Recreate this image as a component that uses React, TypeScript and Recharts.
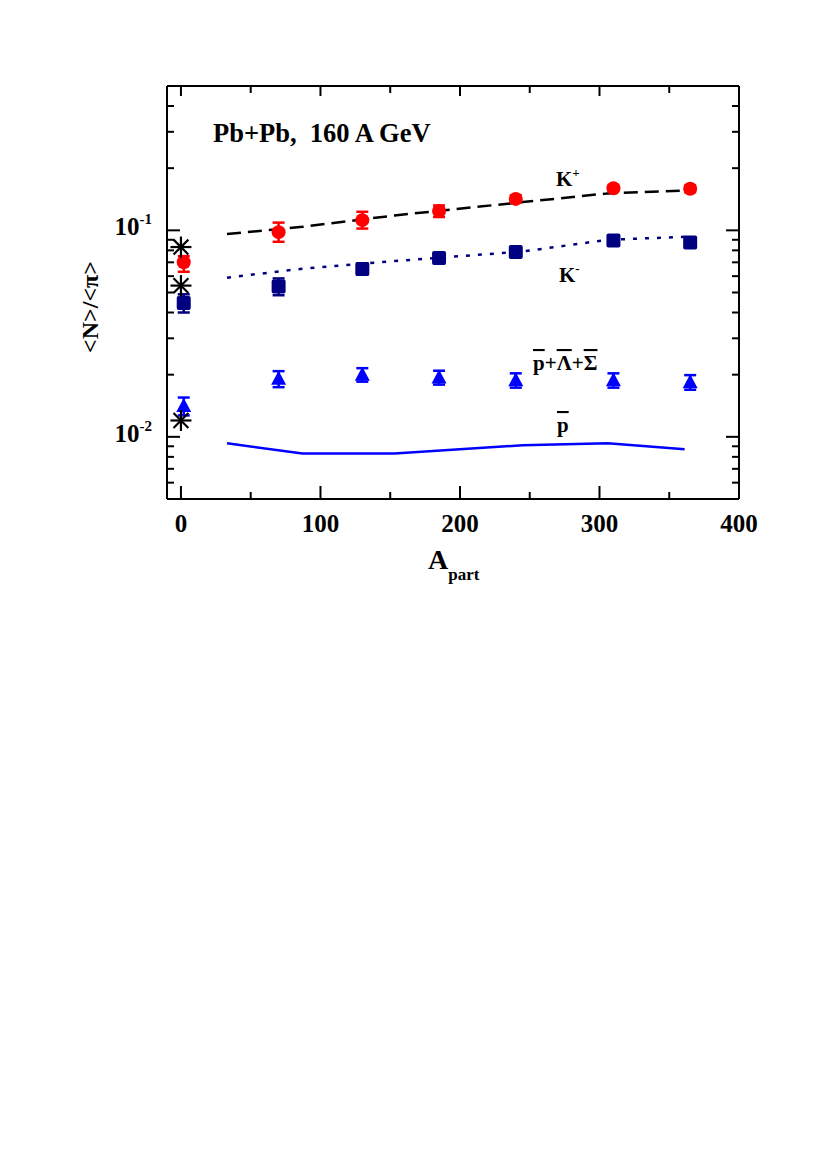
import React from "react";
import { ComposedChart, Scatter, Line, XAxis, YAxis, ErrorBar } from "recharts";

// measured points (A_part, <N>/<pi>)
const aPart = [2, 70, 130, 185, 240, 310, 365];
const kPlus = [0.07, 0.098, 0.112, 0.124, 0.142, 0.16, 0.159];
const kPlusErr = [
  [0.007, 0.005],
  [0.01, 0.011],
  [0.01, 0.011],
  [0.008, 0.008],
  [0.006, 0.006],
  [0.005, 0.005],
  [0.006, 0.006],
];
const kMinus = [0.0445, 0.0535, 0.065, 0.0734, 0.0785, 0.0894, 0.0872];
const kMinusErr = [0.0045, 0.005, 0.004, 0.003, 0.003, 0.003, 0.003];
const hyperons = [0.0141, 0.0191, 0.02, 0.0194, 0.0188, 0.0188, 0.0184];
const hyperonsErr = [0.0014, 0.0017, 0.0015, 0.0015, 0.0015, 0.0015, 0.0015];

// p+p reference points at A_part = 0
const ppX = [0, 0, 0];
const ppY = [0.083, 0.054, 0.012];

// model curves
const modelApart = [33, 87, 153, 245, 306, 361];
const kPlusModel = [0.096, 0.104, 0.118, 0.137, 0.151, 0.156];
const kMinusModel = [0.059, 0.0652, 0.071, 0.079, 0.09, 0.093];
const pbarModel = [0.0093, 0.0083, 0.0083, 0.0091, 0.0093, 0.0087];

const xTicks = [0, 50, 100, 150, 200, 250, 300, 350, 400];
const yTicks = [
  0.005, 0.006, 0.007, 0.008, 0.009, 0.01, 0.02, 0.03, 0.04, 0.05, 0.06, 0.07,
  0.08, 0.09, 0.1, 0.2, 0.3, 0.4, 0.5,
];

const kPlusData = aPart.map((x, i) => ({ x, y: kPlus[i], err: kPlusErr[i] }));
const kMinusData = aPart.map((x, i) => ({ x, y: kMinus[i], err: kMinusErr[i] }));
const hyperonsData = aPart.map((x, i) => ({ x, y: hyperons[i], err: hyperonsErr[i] }));
const ppData = ppX.map((x, i) => ({ x, y: ppY[i] }));
const kPlusModelData = modelApart.map((x, i) => ({ x, y: kPlusModel[i] }));
const kMinusModelData = modelApart.map((x, i) => ({ x, y: kMinusModel[i] }));
const pbarModelData = modelApart.map((x, i) => ({ x, y: pbarModel[i] }));

const FONT = "'Liberation Serif', 'Times New Roman', serif";

const isDecade = (v: number) => Math.abs(Math.log10(v) - Math.round(Math.log10(v))) < 1e-6;

function LeftTick(props: any) {
  const { x, y, payload } = props;
  const v = payload.value;
  const major = isDecade(v);
  return (
    <g>
      <line x1={x} x2={x + (major ? 13 : 7)} y1={y} y2={y} stroke="#000" strokeWidth={2} />
      {major && (
        <text x={x - 15} y={y + 5} textAnchor="end" fontFamily={FONT} fontWeight="bold" fontSize={25} fill="#000">
          <tspan>10</tspan>
          <tspan dy={-11} fontSize={15}>{String(Math.round(Math.log10(v)))}</tspan>
        </text>
      )}
    </g>
  );
}

function RightTick(props: any) {
  const { x, y, payload } = props;
  const major = isDecade(payload.value);
  return <line x1={x} x2={x - (major ? 13 : 7)} y1={y} y2={y} stroke="#000" strokeWidth={2} />;
}

function BottomTick(props: any) {
  const { x, y, payload } = props;
  const major = payload.value % 100 === 0;
  return (
    <g>
      <line x1={x} x2={x} y1={y} y2={y - (major ? 13 : 7)} stroke="#000" strokeWidth={2} />
      {major && (
        <text x={x} y={y + 33} textAnchor="middle" fontFamily={FONT} fontWeight="bold" fontSize={25} fill="#000">
          {payload.value}
        </text>
      )}
    </g>
  );
}

function TopTick(props: any) {
  const { x, y, payload } = props;
  const major = payload.value % 100 === 0;
  return <line x1={x} x2={x} y1={y} y2={y + (major ? 10 : 7)} stroke="#000" strokeWidth={2} />;
}

const circleShape = (p: any) => <circle cx={p.cx} cy={p.cy} r={7} fill="#ff0000" />;
const squareShape = (p: any) => (
  <rect x={p.cx - 7} y={p.cy - 7} width={14} height={14} rx={2} fill="#000080" />
);
const triangleShape = (p: any) => (
  <polygon
    points={`${p.cx},${p.cy - 8} ${p.cx - 7.5},${p.cy + 6} ${p.cx + 7.5},${p.cy + 6}`}
    fill="#0000ff"
  />
);
const asteriskShape = (p: any) => {
  const r = 10.5;
  const d = r * 0.7071;
  return (
    <g stroke="#000" strokeWidth={2.2}>
      <line x1={p.cx - r} x2={p.cx + r} y1={p.cy} y2={p.cy} />
      <line x1={p.cx} x2={p.cx} y1={p.cy - r} y2={p.cy + r} />
      <line x1={p.cx - d} x2={p.cx + d} y1={p.cy - d} y2={p.cy + d} />
      <line x1={p.cx - d} x2={p.cx + d} y1={p.cy + d} y2={p.cy - d} />
    </g>
  );
};

const W = 817;
const H = 620;

export default function App() {
  const axisLine = { stroke: "#000", strokeWidth: 2 };
  const over = { textDecoration: "overline" } as React.CSSProperties;
  return (
    <div style={{ position: "absolute", left: 0, top: 0, width: W, height: H }}>
      <ComposedChart width={W} height={H} margin={{ top: 85, right: 77, bottom: 120, left: 166 }}>
        <XAxis
          xAxisId="bottom"
          type="number"
          dataKey="x"
          domain={[-10, 400]}
          allowDataOverflow
          ticks={xTicks}
          interval={0}
          height={1}
          tickSize={0}
          tickMargin={0}
          tickLine={false}
          axisLine={axisLine}
          tick={<BottomTick />}
        />
        <XAxis
          xAxisId="top"
          orientation="top"
          type="number"
          dataKey="x"
          domain={[-10, 400]}
          allowDataOverflow
          ticks={xTicks}
          interval={0}
          height={1}
          tickSize={0}
          tickMargin={0}
          tickLine={false}
          axisLine={axisLine}
          tick={<TopTick />}
        />
        <YAxis
          yAxisId="left"
          scale="log"
          type="number"
          dataKey="y"
          domain={[0.005, 0.5]}
          allowDataOverflow
          ticks={yTicks}
          interval={0}
          width={1}
          tickSize={0}
          tickMargin={0}
          tickLine={false}
          axisLine={axisLine}
          tick={<LeftTick />}
        />
        <YAxis
          yAxisId="right"
          orientation="right"
          scale="log"
          type="number"
          dataKey="y"
          domain={[0.005, 0.5]}
          allowDataOverflow
          ticks={yTicks}
          interval={0}
          width={1}
          tickSize={0}
          tickMargin={0}
          tickLine={false}
          axisLine={axisLine}
          tick={<RightTick />}
        />

        <Line
          xAxisId="top"
          yAxisId="right"
          data={pbarModelData}
          dataKey="y"
          type="linear"
          stroke="#0000ff"
          strokeWidth={2.5}
          dot={false}
          isAnimationActive={false}
        />
        <Line
          xAxisId="bottom"
          yAxisId="left"
          data={kPlusModelData}
          dataKey="y"
          type="linear"
          stroke="#000"
          strokeWidth={2.5}
          strokeDasharray="14 7"
          dot={false}
          isAnimationActive={false}
        />
        <Line
          xAxisId="bottom"
          yAxisId="left"
          data={kMinusModelData}
          dataKey="y"
          type="linear"
          stroke="#000080"
          strokeWidth={2.5}
          strokeDasharray="4 8"
          dot={false}
          isAnimationActive={false}
        />

        <Scatter xAxisId="bottom" yAxisId="left" data={kPlusData} shape={circleShape} isAnimationActive={false}>
          <ErrorBar dataKey="err" direction="y" width={6} stroke="#ff0000" strokeWidth={2.5} />
        </Scatter>
        <Scatter xAxisId="bottom" yAxisId="left" data={kMinusData} shape={squareShape} isAnimationActive={false}>
          <ErrorBar dataKey="err" direction="y" width={6} stroke="#000080" strokeWidth={2.5} />
        </Scatter>
        <Scatter xAxisId="bottom" yAxisId="left" data={hyperonsData} shape={triangleShape} isAnimationActive={false}>
          <ErrorBar dataKey="err" direction="y" width={6} stroke="#0000ff" strokeWidth={2.5} />
        </Scatter>
        <Scatter xAxisId="bottom" yAxisId="left" data={ppData} shape={asteriskShape} isAnimationActive={false} />
      </ComposedChart>

      <svg
        width={W}
        height={H}
        style={{ position: "absolute", left: 0, top: 0, pointerEvents: "none" }}
        fontFamily={FONT}
        fontWeight="bold"
        fill="#000"
      >
        <text x={213} y={142} fontSize={26.5} style={{ whiteSpace: "pre" }}>
          {"Pb+Pb,  160 A GeV"}
        </text>
        <text x={556} y={186} fontSize={21}>
          K<tspan dy={-9} fontSize={13}>+</tspan>
        </text>
        <text x={559} y={282} fontSize={21}>
          K<tspan dy={-9} fontSize={13}>-</tspan>
        </text>
        <text x={533} y={370} fontSize={21}>
          <tspan style={over}>p</tspan>+<tspan style={over}>Λ</tspan>+<tspan style={over}>Σ</tspan>
        </text>
        <text x={557} y={432} fontSize={21}>
          <tspan style={over}>p</tspan>
        </text>
        <text x={428} y={569} fontSize={28}>
          A<tspan dy={11} fontSize={17}>part</tspan>
        </text>
        <text x={90} y={307} fontSize={24} textAnchor="middle" dominantBaseline="central" transform="rotate(-90 90 307)">
          {"<N>/<π>"}
        </text>
      </svg>
    </div>
  );
}
